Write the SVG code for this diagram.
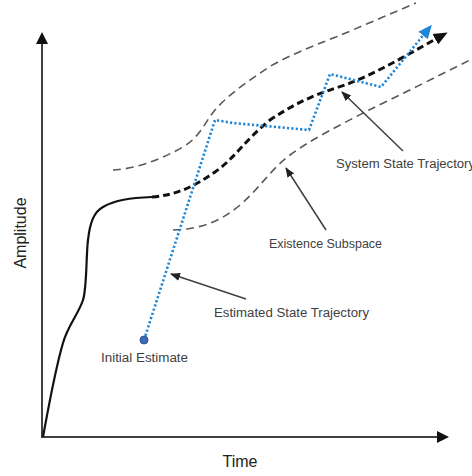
<svg xmlns="http://www.w3.org/2000/svg" width="472" height="476" viewBox="0 0 472 476">
<style>
.lbl{font-family:"Liberation Sans",Arial,sans-serif;font-size:12.5px;fill:#404040}
.ax{font-family:"Liberation Sans",Arial,sans-serif;font-size:16px;fill:#222}
.axis{stroke:#404040;stroke-width:2;fill:none}
.bound{stroke:#595959;stroke-width:1.6;fill:none;stroke-dasharray:8 5}
.ptr{stroke:#404040;stroke-width:1.5;fill:none}
</style>
<defs>
<marker id="axh" markerWidth="12" markerHeight="12" refX="10" refY="6" orient="auto" markerUnits="userSpaceOnUse" viewBox="0 0 12 12">
<path d="M0,0 L12,6 L0,12 Z" fill="#111"/>
</marker>
<marker id="bk" markerWidth="14" markerHeight="14" refX="11" refY="7" orient="auto" markerUnits="userSpaceOnUse" viewBox="0 0 14 14">
<path d="M0,1 L14,7 L0,13 Z" fill="#111"/>
</marker>
<marker id="bl" markerWidth="14" markerHeight="14" refX="11" refY="7" orient="auto" markerUnits="userSpaceOnUse" viewBox="0 0 14 14">
<path d="M0,1 L14,7 L0,13 Z" fill="#1F86D6"/>
</marker>
<marker id="pt" markerWidth="10" markerHeight="10" refX="9" refY="5" orient="auto" markerUnits="userSpaceOnUse" viewBox="0 0 10 10">
<path d="M0,1 L10,5 L0,9 Z" fill="#222"/>
</marker>
</defs>
<g id="axes">
<line class="axis" x1="42" y1="438" x2="42" y2="34" marker-end="url(#axh)"/>
<line class="axis" x1="41" y1="437" x2="447" y2="437" marker-end="url(#axh)"/>
<text class="ax" transform="translate(26,233) rotate(-90)" text-anchor="middle">Amplitude</text>
<text class="ax" x="240" y="467" text-anchor="middle">Time</text>
</g>
<g id="existence-subspace">
<path class="bound" d="M113,170 C135,169 160,160 183,147 C200,137 205,122 215,110 C230,93 250,80 269,67 C290,55 310,47 336,37 C360,27 390,14 416,3"/>
<path class="bound" d="M173,230 C200,229 220,222 240,205 C260,188 270,170 290,155 C310,140 340,125 369,110 C400,95 440,75 470,60"/>
</g>
<g id="system-state-trajectory">
<path d="M43,437 C48,410 55,370 63,343 C68,325 78,315 83,300 C87,288 86,255 88,240 C90,222 94,212 103,207 C115,200 130,198 152,197" stroke="#111" stroke-width="2.2" fill="none"/>
<path d="M152,197 C177,195 195,186 215,172 C235,158 245,140 270,120 C300,100 320,93 345,85 C380,72 415,50 445,34" stroke="#111" stroke-width="3" fill="none" stroke-dasharray="7 4" marker-end="url(#bk)"/>
</g>
<g id="estimated-state-trajectory">
<polyline points="144,340 215,120 233,123 309,130 330,74 381,87 430,27" stroke="#1F86D6" stroke-width="2.6" fill="none" stroke-dasharray="2.2 2.2" marker-end="url(#bl)"/>
</g>
<g id="initial-estimate">
<circle cx="144" cy="340" r="4" fill="#3C6DB8" stroke="#2F5597" stroke-width="1"/>
<text class="lbl" x="101" y="362" textLength="87" lengthAdjust="spacingAndGlyphs">Initial Estimate</text>
</g>
<g id="connectors">
<line class="ptr" x1="403" y1="151" x2="342" y2="92" marker-end="url(#pt)"/>
<line class="ptr" x1="326" y1="230" x2="286" y2="168" marker-end="url(#pt)"/>
<line class="ptr" x1="246" y1="299" x2="171" y2="274" marker-end="url(#pt)"/>
</g>
<g id="labels">
<text class="lbl" x="336" y="168" textLength="139" lengthAdjust="spacingAndGlyphs">System State Trajectory</text>
<text class="lbl" x="269" y="248" textLength="113" lengthAdjust="spacingAndGlyphs">Existence Subspace</text>
<text class="lbl" x="214" y="317" textLength="155" lengthAdjust="spacingAndGlyphs">Estimated State Trajectory</text>
</g>
</svg>
